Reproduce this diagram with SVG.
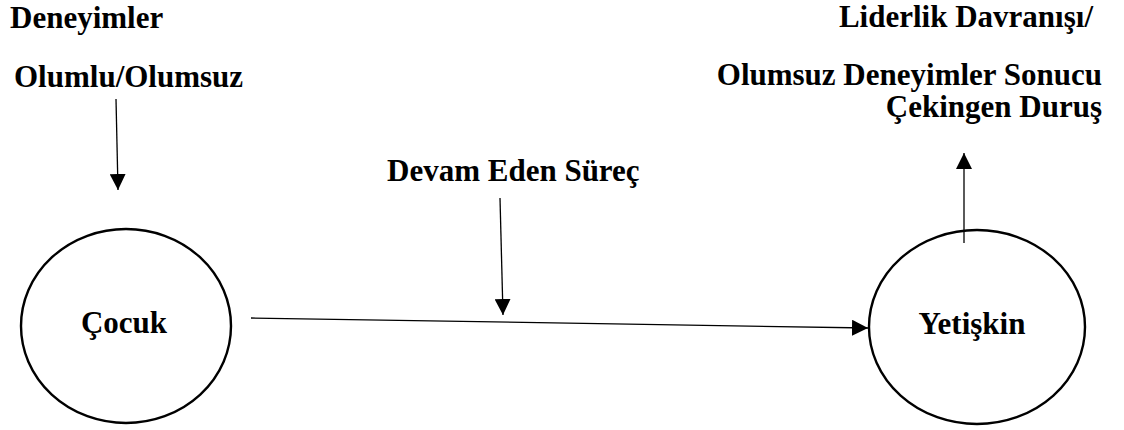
<svg xmlns="http://www.w3.org/2000/svg" width="1124" height="430" viewBox="0 0 1124 430">
<style>
text{font-family:"Liberation Serif","Times New Roman",serif;font-weight:bold;font-size:31px;fill:#000}
.node{fill:#fff;stroke:#000;stroke-width:2.4}
.conn{stroke:#000;stroke-width:1.3;fill:none}
</style>
<defs>
<marker id="ah" markerUnits="userSpaceOnUse" markerWidth="16" markerHeight="16" viewBox="0 0 16 16" refX="16" refY="8" orient="auto">
<path d="M0,0 L16,8 L0,16 Z" fill="#000"/>
</marker>
</defs>
<rect width="1124" height="430" fill="#fff"/>
<g id="labels">
<text x="10" y="28">Deneyimler</text>
<text x="14" y="87">Olumlu/Olumsuz</text>
<text x="387" y="181">Devam Eden Süreç</text>
<text x="1093" y="27" text-anchor="end">Liderlik Davranışı/</text>
<text x="1102" y="85" text-anchor="end">Olumsuz Deneyimler Sonucu</text>
<text x="1102" y="117" text-anchor="end">Çekingen Duruş</text>
</g>
<g id="cocuk">
<ellipse class="node" cx="126" cy="326" rx="105" ry="97"/>
<text x="124" y="333" text-anchor="middle">Çocuk</text>
</g>
<g id="yetiskin">
<ellipse class="node" cx="977" cy="327" rx="108" ry="97"/>
<text x="972" y="334" text-anchor="middle">Yetişkin</text>
</g>
<g id="connectors">
<line class="conn" x1="116" y1="99" x2="118" y2="190" marker-end="url(#ah)"/>
<line class="conn" x1="500" y1="198" x2="503" y2="315" marker-end="url(#ah)"/>
<line class="conn" x1="251" y1="318" x2="868" y2="328" marker-end="url(#ah)"/>
<line class="conn" x1="964" y1="243" x2="964" y2="153" marker-end="url(#ah)"/>
</g>
</svg>
